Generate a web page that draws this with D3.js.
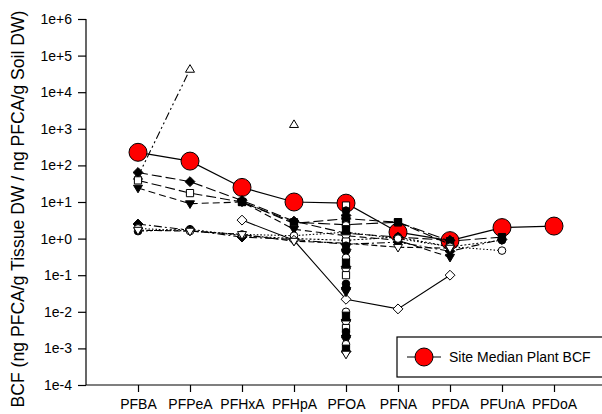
<!DOCTYPE html>
<html>
<head>
<meta charset="utf-8">
<script src="https://cdn.jsdelivr.net/npm/d3@7"></script>
<style>
  html, body { margin: 0; padding: 0; background: #fff; }
  svg { display: block; font-family: "Liberation Sans", Arial, sans-serif; }
</style>
</head>
<body>
<svg id="chart" width="602" height="414"></svg>
<script>
// Perfluorocarboxylic acids, C4 to C12
const categories = ["PFBA", "PFPeA", "PFHxA", "PFHpA", "PFOA", "PFNA", "PFDA", "PFUnA", "PFDoA"];
const yTickValues = [1e-4, 1e-3, 1e-2, 1e-1, 1e0, 1e1, 1e2, 1e3, 1e4, 1e5, 1e6];
const yTickLabels = ["1e-4", "1e-3", "1e-2", "1e-1", "1e+0", "1e+1", "1e+2", "1e+3", "1e+4", "1e+5", "1e+6"];

// Site median plant BCF
const medianBCF = [228, 131, 25, 10, 9.3, 1.5, 0.88, 2.0, 2.2];

// Individual plant BCFs (null = not measured)
const plantA = [50, 42000, null, 1300, null, null, null, null, null];
const plantB = [64, 36, 11, 3.0, 1.4, 1.1, 0.9, null, null];
const plantC = [39, 17.5, 10, 2.6, 3.5, 2.8, 0.7, null, null];
const plantD = [24, 9, 10, 1.8, 1.2, 0.9, 0.31, null, null];
const plantE = [null, null, 10, 2.8, 2.4, 2.8, 0.85, 1.1, null];
const plantF = [1.6, 1.8, 1.2, 1.0, 0.9, 1.1, 0.6, 0.9, null];
const plantG = [2.5, 1.7, 1.1, 0.95, 0.7, 0.8, 0.45, 0.95, null];
const plantH = [1.9, 1.6, 1.3, 1.2, 1.5, 1.0, 0.6, 0.47, null];
const plantI = [null, null, 3.2, 0.9, 0.022, 0.012, 0.1, null, null];
const plantJ = [1.7, 1.6, 1.3, 0.85, 0.75, 0.58, 0.55, null, null];

// Further PFOA-only plant BCFs
const pfoaOnly = [8.0, 5.8, 4.3, 3.1, 2.3, 1.8, 1.4, 1.06, 0.83, 0.64, 0.5, 0.39,
                  0.30, 0.22, 0.17, 0.13, 0.10, 0.058, 0.045, 0.035,
                  0.010, 0.0078, 0.0060, 0.0047, 0.0036, 0.0028, 0.0022, 0.0017,
                  0.0013, 0.00098, 0.00082, 0.00070];

const svg = d3.select("#chart");

const x = d3.scalePoint().domain(categories).range([138, 554]);
const y = d3.scaleLog().domain([1e-4, 1e6]).range([385, 19]);

// Marker outlines
function shapePath(kind, r) {
  const p = d3.path();
  if (kind === "circle") {
    p.arc(0, 0, r, 0, 2 * Math.PI);
  } else if (kind === "square") {
    const h = r * 0.95;
    p.rect(-h, -h, 2 * h, 2 * h);
  } else if (kind === "diamond") {
    const h = r * 1.3;
    p.moveTo(0, -h); p.lineTo(h, 0); p.lineTo(0, h); p.lineTo(-h, 0); p.closePath();
  } else if (kind === "triUp") {
    const h = r * 1.25;
    p.moveTo(0, -h); p.lineTo(h * 0.95, h * 0.6); p.lineTo(-h * 0.95, h * 0.6); p.closePath();
  } else if (kind === "triDown") {
    const h = r * 1.25;
    p.moveTo(0, h); p.lineTo(h * 0.95, -h * 0.6); p.lineTo(-h * 0.95, -h * 0.6); p.closePath();
  }
  return p.toString();
}

const plantSeries = [
  { values: plantA, shape: "triUp",   fill: "#fff", dash: "8,3,2,3,2,3" },
  { values: plantB, shape: "diamond", fill: "#000", dash: "10,4" },
  { values: plantC, shape: "square",  fill: "#fff", dash: "10,4" },
  { values: plantD, shape: "triDown", fill: "#000", dash: "7,4" },
  { values: plantE, shape: "square",  fill: "#000", dash: "12,4" },
  { values: plantF, shape: "circle",  fill: "#000", dash: "2,2" },
  { values: plantG, shape: "diamond", fill: "#000", dash: "8,3,2,3" },
  { values: plantH, shape: "circle",  fill: "#fff", dash: "1.5,2" },
  { values: plantI, shape: "diamond", fill: "#fff", dash: null },
  { values: plantJ, shape: "triDown", fill: "#fff", dash: "6,3" }
];

const line = d3.line()
  .defined(d => d.v != null)
  .x(d => x(d.c))
  .y(d => y(d.v));

// Axes
const yAxis = d3.axisLeft(y)
  .tickValues(yTickValues)
  .tickFormat((d, i) => yTickLabels[i])
  .tickSize(8)
  .tickSizeOuter(0);
const gy = svg.append("g").attr("transform", "translate(86,0)").call(yAxis);
gy.select(".domain").attr("d", "M0,19V385");

const xAxis = d3.axisBottom(x).tickSize(7).tickSizeOuter(0);
const gx = svg.append("g").attr("transform", "translate(0,385)").call(xAxis);
gx.select(".domain").attr("d", "M86,0H602");

[gx, gy].forEach(g => {
  g.selectAll("path, line").attr("stroke", "#000").attr("stroke-width", 1.2);
  g.selectAll("text").attr("fill", "#000").style("font-size", "14px")
    .style("font-family", "'Liberation Sans', Arial, sans-serif");
});
gy.selectAll("text").attr("x", -14);
gx.selectAll("text").attr("y", 14);

// Axis title
svg.append("text")
  .attr("transform", "translate(24,209) rotate(-90)")
  .attr("text-anchor", "middle")
  .style("font-size", "17.6px")
  .attr("fill", "#000")
  .text("BCF (ng PFCA/g Tissue DW / ng PFCA/g Soil DW)");

const plot = svg.append("g");

// Median series (underneath the individual plants)
const medianPts = categories.map((c, i) => ({ c, v: medianBCF[i] }));
plot.append("path")
  .datum(medianPts)
  .attr("d", line)
  .attr("fill", "none")
  .attr("stroke", "#000")
  .attr("stroke-width", 1.2);
plot.selectAll(".median")
  .data(medianPts)
  .join("circle")
  .attr("class", "median")
  .attr("cx", d => x(d.c))
  .attr("cy", d => y(d.v))
  .attr("r", 9)
  .attr("fill", "#f00")
  .attr("stroke", "#000")
  .attr("stroke-width", 1);

// Individual plants
plantSeries.forEach(s => {
  const pts = categories.map((c, i) => ({ c, v: s.values[i] }));
  plot.append("path")
    .datum(pts)
    .attr("d", line)
    .attr("fill", "none")
    .attr("stroke", "#000")
    .attr("stroke-width", 1.1)
    .attr("stroke-dasharray", s.dash);
});
plantSeries.forEach(s => {
  const pts = categories.map((c, i) => ({ c, v: s.values[i] })).filter(d => d.v != null);
  plot.selectAll(null)
    .data(pts)
    .join("path")
    .attr("transform", d => `translate(${x(d.c)},${y(d.v)})`)
    .attr("d", shapePath(s.shape, 3.8))
    .attr("fill", s.fill)
    .attr("stroke", "#000")
    .attr("stroke-width", 1);
});

// PFOA-only plants stacked in one column
const colShapes = ["square", "circle", "diamond", "triDown", "circle", "square", "diamond", "triDown"];
const colFills = ["#fff", "#000", "#000", "#000", "#fff", "#000", "#000", "#fff"];
plot.selectAll(".pfoa")
  .data(pfoaOnly)
  .join("path")
  .attr("class", "pfoa")
  .attr("transform", d => `translate(${x("PFOA")},${y(d)})`)
  .attr("d", (d, i) => shapePath(colShapes[i % colShapes.length], 3.8))
  .attr("fill", (d, i) => colFills[i % colFills.length])
  .attr("stroke", "#000")
  .attr("stroke-width", 1);

// Legend
const lg = svg.append("g");
lg.append("rect")
  .attr("x", 397).attr("y", 337)
  .attr("width", 215).attr("height", 40)
  .attr("fill", "#fff")
  .attr("stroke", "#000")
  .attr("stroke-width", 1.2);
lg.append("line")
  .attr("x1", 407).attr("x2", 441)
  .attr("y1", 357).attr("y2", 357)
  .attr("stroke", "#000").attr("stroke-width", 1.2);
lg.append("circle")
  .attr("cx", 424).attr("cy", 357).attr("r", 9)
  .attr("fill", "#f00").attr("stroke", "#000");
lg.append("text")
  .attr("x", 449).attr("y", 362)
  .style("font-size", "14px")
  .attr("fill", "#000")
  .text("Site Median Plant BCF");
</script>
</body>
</html>
